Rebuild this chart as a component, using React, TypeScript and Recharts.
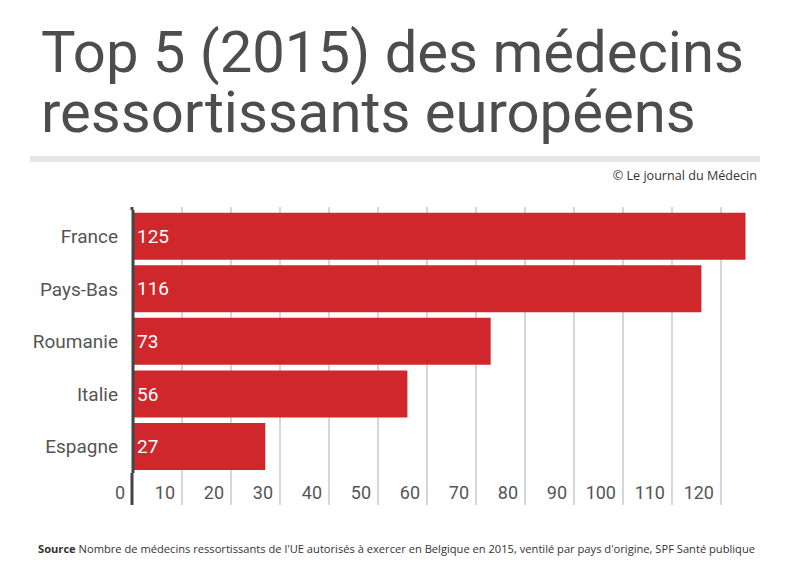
import React from 'react';
import { BarChart, Bar, XAxis, YAxis, CartesianGrid, LabelList } from 'recharts';

const countries = ['France', 'Pays-Bas', 'Roumanie', 'Italie', 'Espagne'];
const doctors = [125, 116, 73, 56, 27];
const xTicks = [0, 10, 20, 30, 40, 50, 60, 70, 80, 90, 100, 110, 120];
const xMax = 125;

const titleLines = ['Top 5 (2015) des médecins', 'ressortissants européens'];
const credit = '© Le journal du Médecin';
const sourceLabel = 'Source';
const sourceText =
  " Nombre de médecins ressortissants de l'UE autorisés à exercer en Belgique en 2015, ventilé par pays d'origine, SPF Santé publique";

const data = countries.map((name, i) => ({ name, value: doctors[i] }));

const RED = '#d0272d';
const TEXT = '#555555';
const GRID = '#c9c9c9';
const AXIS = '#444444';

const PLOT_TOP = 210;
const PLOT_BOTTOM = 473;
const GRID_TOP = 207;
const GRID_BOTTOM = 505;

// tick text sits left of its gridline; the gridline itself runs on past the labels
function XTick(props: any) {
  const { payload } = props;
  const x = payload.coordinate;
  const isZero = payload.value === 0;
  const stroke = isZero ? AXIS : GRID;
  const sw = isZero ? 3 : 1.5;
  const lx = isZero ? x - 1 : x;
  return (
    <g>
      <line x1={lx} x2={lx} y1={GRID_TOP} y2={PLOT_TOP} stroke={stroke} strokeWidth={sw} />
      <line x1={lx} x2={lx} y1={PLOT_BOTTOM} y2={GRID_BOTTOM} stroke={stroke} strokeWidth={sw} />
      <text
        x={x - (isZero ? 8 : 7)}
        y={492}
        textAnchor="end"
        dominantBaseline="central"
        fontFamily="Roboto"
        fontSize={18}
        fill={TEXT}
      >
        {payload.value}
      </text>
    </g>
  );
}

// only the tick values get a gridline, not the end of the domain
const gridX = ({ offset }: any) =>
  xTicks.filter((t) => t > 0).map((t) => offset.left + (t / xMax) * offset.width);

export default function App() {
  return (
    <div style={{ position: 'absolute', left: 0, top: 0, width: 800, height: 588, background: '#fff' }}>
      <BarChart
        width={800}
        height={588}
        data={data}
        layout="vertical"
        barCategoryGap="5%"
        margin={{ top: PLOT_TOP, right: 54.5, left: 0, bottom: 588 - PLOT_BOTTOM - 30 }}
      >
        <CartesianGrid
          horizontal={false}
          stroke={GRID}
          strokeWidth={1.5}
          verticalCoordinatesGenerator={gridX}
        />
        <XAxis
          type="number"
          domain={[0, xMax]}
          ticks={xTicks}
          axisLine={false}
          tickLine={false}
          height={30}
          tick={<XTick />}
          interval={0}
        />
        <YAxis
          type="category"
          dataKey="name"
          width={133}
          axisLine={{ stroke: AXIS, strokeWidth: 3 }}
          tickLine={false}
          tickSize={0}
          tickMargin={15}
          tick={{ fontFamily: 'Roboto', fontSize: 19, fill: TEXT }}
        />
        <Bar dataKey="value" fill={RED} isAnimationActive={false}>
          <LabelList
            dataKey="value"
            position="insideLeft"
            offset={4}
            fill="#ffffff"
            fontFamily="Roboto"
            fontSize={19}
          />
        </Bar>
      </BarChart>
      <svg
        width={800}
        height={588}
        style={{ position: 'absolute', left: 0, top: 0, pointerEvents: 'none' }}
      >
        <text x={41} y={72} fontFamily="Roboto" fontSize={58} fill="#4d4d4d">
          {titleLines[0]}
        </text>
        <text x={41} y={132} fontFamily="Roboto" fontSize={58} fill="#4d4d4d">
          {titleLines[1]}
        </text>
        <rect x={30} y={156} width={730} height={6} fill="#e6e6e6" />
        <text x={757} y={180} textAnchor="end" fontFamily="Open Sans" fontSize={12.6} fill="#333">
          {credit}
        </text>
        <text
          x={38}
          y={553}
          fontFamily="Open Sans"
          fontSize={10.5}
          fill="#333"
          textLength={717}
          lengthAdjust="spacingAndGlyphs"
        >
          <tspan fontWeight="bold">{sourceLabel}</tspan>
          <tspan>{sourceText}</tspan>
        </text>
      </svg>
    </div>
  );
}
